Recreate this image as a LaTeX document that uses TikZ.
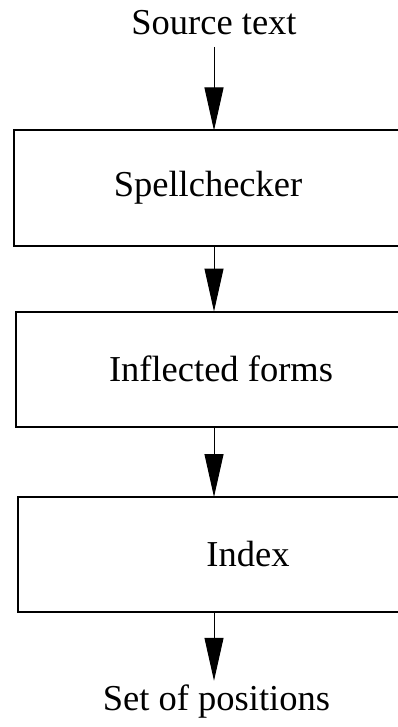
\documentclass[tikz,border=0pt]{standalone}
\usepackage{fontspec}
\setmainfont{Liberation Serif}
\usetikzlibrary{arrows.meta}

\begin{document}
\begin{tikzpicture}[x=1pt,y=-1pt,>={Triangle[length=43pt,width=19pt]},
                    font=\fontsize{36.5}{44}\selectfont,
                    stage/.style={draw,line width=2pt,outer sep=0pt,minimum height=115pt,anchor=west},
                    flow/.style={->,line width=1pt}]
  \useasboundingbox (0,0) rectangle (398,727);

  \node[anchor=base] (src) at (214,35) {Source text};
  \node[stage,minimum width=388pt] (spell) at (14,188) {Spellchecker};
  \node[stage,minimum width=410pt] (infl) at (16,369) {Inflected forms};
  \node[stage,minimum width=460pt] (index) at (18,554.5) {Index};
  \node[anchor=base] (pos) at (216.5,710) {Set of positions};

  \draw[flow,shorten <=8pt] (src.south) -- (src.south |- spell.north);
  \draw[flow] (spell.south -| src) -- (infl.north -| src);
  \draw[flow] (infl.south -| src) -- (index.north -| src);
  \draw[flow] (index.south -| src) -- (pos.north -| src);
\end{tikzpicture}
\end{document}
